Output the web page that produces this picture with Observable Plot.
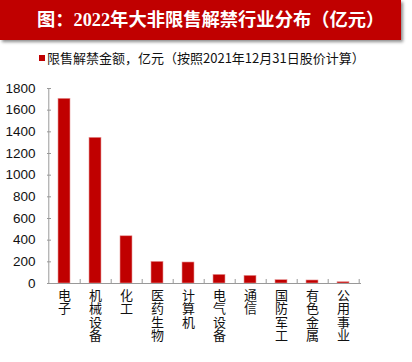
<!DOCTYPE html>
<html>
<head>
<meta charset="utf-8">
<script src="https://cdn.jsdelivr.net/npm/d3@7"></script>
<script src="https://cdn.jsdelivr.net/npm/@observablehq/plot@0.6"></script>
<style>
  html, body { margin: 0; padding: 0; background: #fff; }
  #wrap { position: relative; width: 412px; height: 362px; overflow: hidden; font-family: "Noto Sans CJK SC", sans-serif; }
  #banner { position: absolute; left: 0; top: 0; width: 401px; height: 40px; background: #C00000; box-shadow: 2px 2px 3px rgba(0,0,0,0.45); }
  #title { position: absolute; left: 37px; top: 8px; color: #fff; font-weight: bold; font-size: 18.3px; line-height: 24px; white-space: nowrap; font-family: "Liberation Serif", "Noto Sans CJK SC", serif; }
  #legend { position: absolute; left: 39px; top: 49px; font-size: 13px; line-height: 18px; color: #111; white-space: nowrap; display: flex; align-items: center; }
  #legend .sw { display: inline-block; width: 6px; height: 6px; background: #C00000; margin-right: 2px; }
  #chart { position: absolute; left: 0; top: 70px; }
</style>
</head>
<body>
<div id="wrap">
  <div id="banner"></div>
  <div id="title"></div>
  <div id="legend"><span class="sw"></span><span id="legendText"></span></div>
  <div id="chart"></div>
</div>
<script>
const titleText = "图：2022年大非限售解禁行业分布（亿元）";
const seriesName = "限售解禁金额，亿元（按照2021年12月31日股价计算）";
const categories = ["电子", "机械设备", "化工", "医药生物", "计算机", "电气设备", "通信", "国防军工", "有色金属", "公用事业"];
const values = [1705, 1345, 436, 200, 194, 80, 71, 31, 28, 12];
const yTicks = [0, 200, 400, 600, 800, 1000, 1200, 1400, 1600, 1800];

document.getElementById("title").textContent = titleText;
document.getElementById("legendText").textContent = seriesName;

const data = categories.map((c, i) => ({category: c, value: values[i]}));
const W = 412, H = 292;
const mL = 47, mR = 51;
const step = (W - mL - mR) / categories.length;

const chart = Plot.plot({
  width: W,
  height: H,
  marginTop: 18,
  marginBottom: 79,
  marginLeft: mL,
  marginRight: mR,
  style: { fontFamily: "'Liberation Sans', 'Noto Sans CJK SC', sans-serif", background: "#fff", color: "#111" },
  x: { domain: categories, paddingInner: 0.6, paddingOuter: 0.3, label: null },
  y: { domain: [0, 1800], label: null },
  marks: [
    Plot.barY(data, { x: "category", y: "value", fill: "#C00000", stroke: "#e89a9a", strokeWidth: 0.6 }),
    Plot.tickY(yTicks, { y: d => d, stroke: "#999", strokeWidth: 1, insetRight: (W - mL - mR) - 4 }),
    Plot.ruleX(categories, { x: d => d, dx: step / 2, y1: 0, y2: 37, stroke: "#999", strokeWidth: 1 }),
    Plot.ruleX([0], { x: () => categories[0], dx: -step / 2, y1: 0, y2: 1800, stroke: "#999", strokeWidth: 1 }),
    Plot.ruleY([0], { stroke: "#999", strokeWidth: 1.2 }),
    Plot.axisY({ ticks: yTicks, tickSize: 0, tickPadding: 12, fontSize: 13.5, tickFormat: d => String(d), label: null }),
    Plot.axisX({
      tickSize: 0,
      tickPadding: 7,
      fontSize: 13,
      lineHeight: 1.03,
      fontFamily: "'Noto Sans CJK SC', sans-serif",
      tickFormat: d => d.split("").join("\n"),
      label: null
    })
  ]
});
document.getElementById("chart").appendChild(chart);
</script>
</body>
</html>
